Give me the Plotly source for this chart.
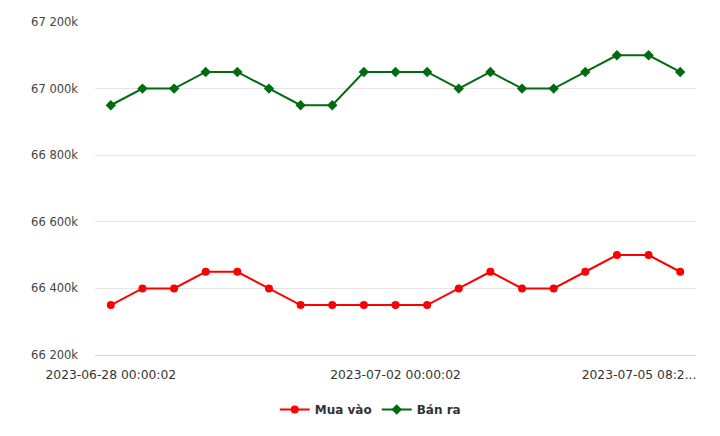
import plotly.graph_objects as go

mua_vao = [66350, 66400, 66400, 66450, 66450, 66400, 66350, 66350, 66350, 66350,
           66350, 66400, 66450, 66400, 66400, 66450, 66500, 66500, 66450]
ban_ra = [66950, 67000, 67000, 67050, 67050, 67000, 66950, 66950, 67050, 67050,
          67050, 67000, 67050, 67000, 67000, 67050, 67100, 67100, 67050]
y_ticks = [66200, 66400, 66600, 66800, 67000, 67200]
y_tick_labels = ["66 200k", "66 400k", "66 600k", "66 800k", "67 000k", "67 200k"]
x_tick_idx = [0, 9, 16.7]
x_tick_labels = ["2023-06-28 00:00:02", "2023-07-02 00:00:02", "2023-07-05 08:2..."]

idx = list(range(len(mua_vao)))

fig = go.Figure()
fig.add_trace(go.Scatter(x=idx, y=mua_vao, name="Mua vào", mode="lines+markers",
                         line=dict(color="#ff0000", width=2),
                         marker=dict(symbol="circle", size=8, color="#ff0000")))
fig.add_trace(go.Scatter(x=idx, y=ban_ra, name="Bán ra", mode="lines+markers",
                         line=dict(color="#006b0f", width=2),
                         marker=dict(symbol="diamond", size=8, color="#006b0f")))

fig.update_layout(
    width=720, height=436,
    margin=dict(l=95, r=24, t=22, b=78),
    paper_bgcolor="white", plot_bgcolor="white",
    font=dict(family="DejaVu Sans", size=11, color="#333333"),
    showlegend=True,
    legend=dict(orientation="h", x=0.458, xanchor="center", y=-0.12, yanchor="top",
                font=dict(size=12, color="#333333", family="DejaVu Sans", weight="bold"),
                itemwidth=30),
    xaxis=dict(range=[-0.5, 18.5], tickmode="array", tickvals=x_tick_idx, ticktext=x_tick_labels,
               showgrid=False, zeroline=False, showline=True, linecolor="#ccd6eb", linewidth=1,
               ticks="", tickfont=dict(size=12.3, color="#333333"), ticklabelstandoff=8),
    yaxis=dict(range=[66200, 67200], tickmode="array", tickvals=y_ticks, ticktext=y_tick_labels,
               showgrid=True, gridcolor="#e6e6e6", gridwidth=1, zeroline=False,
               ticks="", tickfont=dict(size=11.5, color="#444444"), ticklabelstandoff=16),
)
fig.write_html("out.html")
